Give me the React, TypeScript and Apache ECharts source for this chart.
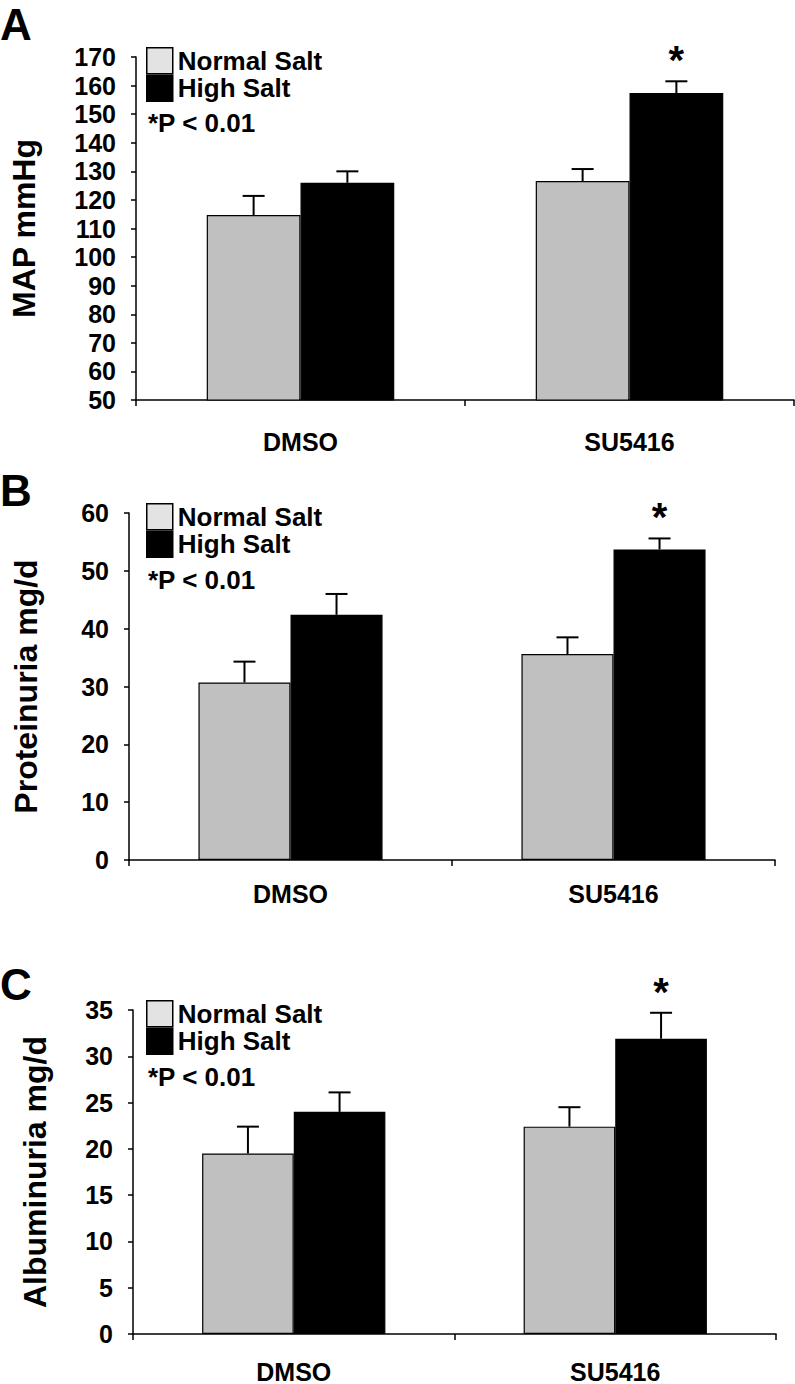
import React, { useEffect, useRef } from "react";
import * as echarts from "echarts";

const FONT = "'Liberation Sans', Arial, Helvetica, sans-serif";

const categories = ["DMSO", "SU5416"];
const seriesNames = ["Normal Salt", "High Salt"];

// Panel A: MAP mmHg
const mapNormal = [114.7, 126.6];
const mapNormalErr = [6.7, 4.2];
const mapHigh = [126.0, 157.4];
const mapHighErr = [4.0, 4.1];

// Panel B: Proteinuria mg/d
const protNormal = [30.7, 35.6];
const protNormalErr = [3.6, 2.9];
const protHigh = [42.4, 53.7];
const protHighErr = [3.6, 1.9];

// Panel C: Albuminuria mg/d
const albNormal = [19.5, 22.4];
const albNormalErr = [2.9, 2.1];
const albHigh = [24.0, 31.9];
const albHighErr = [2.1, 2.8];

// significance marks (High Salt vs Normal Salt)
const highSig = [false, true];

const panelLetters = ["A", "B", "C"];
const yNames = ["MAP mmHg", "Proteinuria mg/d", "Albuminuria mg/d"];
const yMin = [50, 0, 0];
const yMax = [170, 60, 35];
const yInterval = [10, 10, 5];
const pText = "*P < 0.01";

const panels = [
  { normal: mapNormal, normalErr: mapNormalErr, high: mapHigh, highErr: mapHighErr },
  { normal: protNormal, normalErr: protNormalErr, high: protHigh, highErr: protHighErr },
  { normal: albNormal, normalErr: albNormalErr, high: albHigh, highErr: albHighErr },
];

// layout
const grids = [
  { left: 128, top: 57, width: 666, height: 343 },
  { left: 129, top: 513, width: 646, height: 347 },
  { left: 133, top: 1010, width: 643, height: 327 },
];
const xLabelMargin = [29, 21, 25];
const nameGaps = [96, 87, 82];
const legendTops = [47, 503, 1000];
const pTextY = [123, 580, 1077];
const letterY = [2, 468, 962];
const CAT_GAP = 0.43;

export default function App() {
  const ref = useRef<HTMLDivElement>(null);

  useEffect(() => {
    if (!ref.current) return;
    const chart = echarts.init(ref.current, null, { renderer: "svg" });

    const black = "#000";

    const renderErr = (params: any, api: any) => {
      const ci = api.value(0);
      const v = api.value(1);
      const e = api.value(2);
      const sig = api.value(3);
      const side = api.value(4);
      const base = api.coord([ci, v]);
      const top = api.coord([ci, v + e]);
      const band = api.size([1, 0])[0];
      const bw = (band * (1 - CAT_GAP)) / 2;
      const cx = base[0] + (side * bw) / 2;
      const children: any[] = [
        {
          type: "line",
          shape: { x1: cx, y1: base[1], x2: cx, y2: top[1] },
          style: { stroke: black, lineWidth: 2 },
        },
        {
          type: "line",
          shape: { x1: cx - 11, y1: top[1], x2: cx + 11, y2: top[1] },
          style: { stroke: black, lineWidth: 2 },
        },
      ];
      if (sig) {
        children.push({
          type: "text",
          x: cx,
          y: top[1] - 21,
          style: {
            text: "*",
            fill: black,
            fontSize: 40,
            fontWeight: "bold",
            fontFamily: FONT,
            align: "center",
            verticalAlign: "middle",
          },
        });
      }
      return { type: "group", children };
    };

    const series: any[] = [];
    panels.forEach((p, i) => {
      series.push({
        name: seriesNames[0],
        type: "bar",
        xAxisIndex: i,
        yAxisIndex: i,
        data: p.normal,
        barGap: "0%",
        barCategoryGap: CAT_GAP * 100 + "%",
        itemStyle: { color: "#c0c0c0", borderColor: black, borderWidth: 1.2 },
        z: 2,
      });
      series.push({
        name: seriesNames[1],
        type: "bar",
        xAxisIndex: i,
        yAxisIndex: i,
        data: p.high,
        barGap: "0%",
        barCategoryGap: CAT_GAP * 100 + "%",
        itemStyle: { color: black, borderColor: black, borderWidth: 1.2 },
        z: 2,
      });
      series.push({
        name: "err-normal-" + i,
        type: "custom",
        xAxisIndex: i,
        yAxisIndex: i,
        renderItem: renderErr,
        data: categories.map((c, j) => [j, p.normal[j], p.normalErr[j], 0, -1]),
        z: 5,
        silent: true,
      });
      series.push({
        name: "err-high-" + i,
        type: "custom",
        xAxisIndex: i,
        yAxisIndex: i,
        renderItem: renderErr,
        data: categories.map((c, j) => [j, p.high[j], p.highErr[j], highSig[j] ? 1 : 0, 1]),
        z: 5,
        silent: true,
      });
    });

    const graphic: any[] = [];
    panelLetters.forEach((L, i) => {
      graphic.push({
        type: "text",
        x: 0,
        y: letterY[i],
        style: {
          text: L,
          fill: black,
          fontSize: 44,
          fontWeight: "bold",
          fontFamily: FONT,
          verticalAlign: "top",
        },
      });
      graphic.push({
        type: "text",
        x: 148,
        y: pTextY[i],
        style: {
          text: pText,
          fill: black,
          fontSize: 26,
          fontWeight: "bold",
          fontFamily: FONT,
          verticalAlign: "middle",
        },
      });
    });

    const option: any = {
      animation: false,
      backgroundColor: "#fff",
      textStyle: { fontFamily: FONT },
      grid: grids,
      xAxis: grids.map((g, i) => ({
        gridIndex: i,
        type: "category",
        data: categories,
        axisLine: { lineStyle: { color: black, width: 1.5 } },
        axisTick: { show: true, length: 6, lineStyle: { color: black, width: 1.5 } },
        axisLabel: {
          color: black,
          fontSize: 25,
          fontWeight: "bold",
          fontFamily: FONT,
          margin: xLabelMargin[i],
        },
        splitLine: { show: false },
      })),
      yAxis: grids.map((g, i) => ({
        gridIndex: i,
        type: "value",
        min: yMin[i],
        max: yMax[i],
        interval: yInterval[i],
        name: yNames[i],
        nameLocation: "middle",
        nameRotate: 90,
        nameGap: nameGaps[i],
        nameTextStyle: {
          color: black,
          fontSize: 32,
          fontWeight: "bold",
          fontFamily: FONT,
        },
        axisLine: { show: true, lineStyle: { color: black, width: 1.5 } },
        axisTick: { show: true, length: 5, lineStyle: { color: black, width: 1.5 } },
        axisLabel: {
          color: black,
          fontSize: 25,
          fontWeight: "bold",
          fontFamily: FONT,
          margin: 20,
        },
        splitLine: { show: false },
      })),
      legend: grids.map((g, i) => ({
        orient: "vertical",
        left: 146,
        top: legendTops[i],
        padding: 0,
        itemWidth: 26,
        itemHeight: 26,
        itemGap: 0,
        icon: "rect",
        selectedMode: false,
        textStyle: {
          color: black,
          fontSize: 26,
          fontWeight: "bold",
          fontFamily: FONT,
          lineHeight: 26,
        },
        data: [
          { name: seriesNames[0], itemStyle: { color: "#e3e3e3", borderColor: black, borderWidth: 1.5 } },
          { name: seriesNames[1], itemStyle: { color: black, borderColor: black, borderWidth: 1.5 } },
        ],
      })),
      series,
      graphic,
    };

    chart.setOption(option);
    return () => chart.dispose();
  }, []);

  return (
    <div
      ref={ref}
      style={{ position: "absolute", left: 0, top: 0, width: 795, height: 1384, background: "#fff" }}
    />
  );
}
